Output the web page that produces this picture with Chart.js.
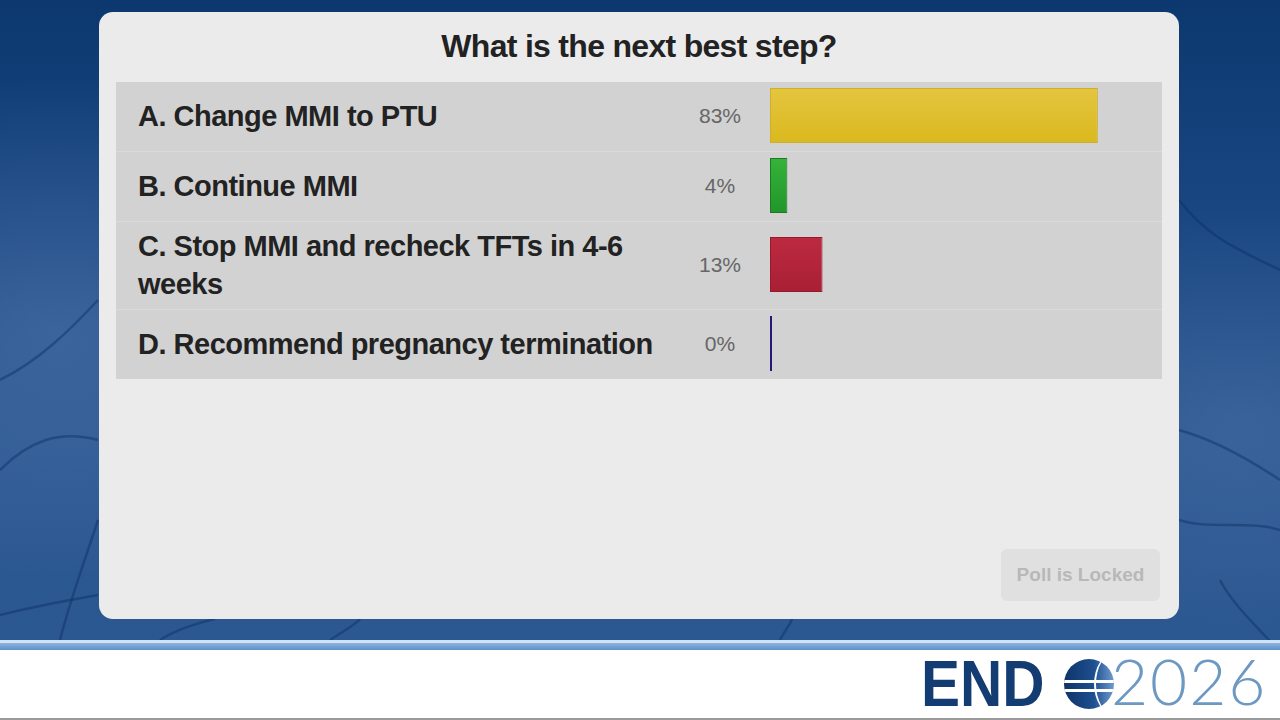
<!DOCTYPE html>
<html>
<head>
<meta charset="utf-8">
<script src="https://cdn.jsdelivr.net/npm/chart.js@4.4.1/dist/chart.umd.min.js"></script>
<style>
  html, body { margin: 0; padding: 0; }
  body {
    width: 1280px; height: 720px; position: relative; overflow: hidden;
    font-family: "Liberation Sans", Arial, sans-serif; background: #fff;
  }
  #bg {
    position: absolute; left: 0; top: 0; width: 1280px; height: 641px;
    background:
      radial-gradient(ellipse 520px 360px at 60px 330px, rgba(120,150,200,0.30), rgba(0,0,0,0) 70%),
      radial-gradient(ellipse 420px 300px at 1240px 420px, rgba(110,140,190,0.25), rgba(0,0,0,0) 70%),
      linear-gradient(180deg, #0c386f 0%, #184580 30%, #2a5690 70%, #2c5891 100%);
  }
  #bg svg { position: absolute; left: 0; top: 0; }
  #strip1 { position: absolute; left: 0; top: 640px; width: 1280px; height: 3px; background: #cfe3f5; }
  #strip2 { position: absolute; left: 0; top: 643px; width: 1280px; height: 7px;
            background: linear-gradient(180deg, #8db3df, #5f8fc8); }
  #footline { position: absolute; left: 0; top: 718px; width: 1280px; height: 2px; background: #9a9a9a; }

  #card {
    position: absolute; left: 99px; top: 12px; width: 1080px; height: 607px;
    background: #ebebeb; border-radius: 14px;
  }
  #title {
    position: absolute; left: 0; top: 15px; width: 100%; text-align: center;
    font-weight: bold; font-size: 32px; letter-spacing: -0.7px; color: #222; line-height: 38px;
  }
  #rows {
    position: absolute; left: 17px; top: 70px; width: 1046px;
    background: #d2d2d2;
  }
  .row {
    position: relative; display: flex; align-items: center;
    padding: 6px 0; border-bottom: 1px solid #dadada; min-height: 57px;
  }
  .row:last-child { border-bottom: none; }
  .label {
    margin-left: 22px; width: 535px; font-weight: bold; font-size: 29px; letter-spacing: -0.5px;
    line-height: 37.5px; color: #222;
  }
  .pct {
    position: absolute; left: 564px; width: 80px; top: 50%; margin-top: -13px;
    text-align: center; font-size: 21px; line-height: 24px; color: #666;
  }
  .bar {
    position: absolute; left: 654px; width: 395px; height: 57px; top: 50%; margin-top: -30px;
  }
  #locked {
    position: absolute; left: 902px; top: 537px; width: 159px; height: 52px;
    background: #e0e0e0; border-radius: 6px; color: #b8b8b8;
    font-weight: bold; font-size: 19px; line-height: 52px; text-align: center;
  }
  #logo { position: absolute; left: 921px; top: 652px; width: 359px; height: 64px; }
  #logo .end {
    position: absolute; left: 0; top: 4px; font-weight: bold;
    font-size: 65px; line-height: 56px; color: #123c72;
    transform: scaleX(0.9); transform-origin: left top;
  }
  #logo .globe {
    position: absolute; left: 143px; top: 7px; width: 50px; height: 50px; border-radius: 50%;
    background: linear-gradient(90deg, #0f3468 0%, #1d4f90 60%, #6f9bd0 100%);
    overflow: hidden;
  }
  #logo .globe i { position: absolute; left: 0; width: 100%; height: 3px; background: #fff; }
  #logo .globe b { position: absolute; left: 30px; top: -6px; width: 40px; height: 62px;
                   border-left: 2px solid #fff; border-radius: 50%; }
  #logo .yr {
    position: absolute; left: 190px; top: -1px; font-family: "Lato", sans-serif; font-weight: 300;
    font-size: 64px; line-height: 60px; letter-spacing: 2px; color: #6c98c2; white-space: nowrap;
  }
</style>
</head>
<body>
<div id="bg">
  <svg width="1280" height="641" viewBox="0 0 1280 641">
    <g fill="none" stroke="#0a2f63" stroke-opacity="0.45" stroke-width="2.5">
      <path d="M0 380 C 40 360, 70 330, 98 300"/>
      <path d="M0 470 C 30 440, 60 430, 98 440"/>
      <path d="M0 615 C 40 605, 70 600, 98 595"/>
      <path d="M60 640 C 70 600, 85 560, 98 520"/>
      <path d="M1179 200 C 1210 240, 1240 250, 1280 270"/>
      <path d="M1179 430 C 1215 440, 1250 460, 1280 480"/>
      <path d="M1179 520 C 1210 530, 1250 520, 1280 530"/>
      <path d="M1220 580 C 1230 600, 1250 620, 1270 641"/>
      <path d="M160 640 C 175 630, 200 622, 215 619"/>
      <path d="M330 640 C 345 630, 355 625, 360 619"/>
      <path d="M780 640 C 785 630, 790 625, 792 619"/>
    </g>
  </svg>
</div>
<div id="strip1"></div>
<div id="strip2"></div>
<div id="footline"></div>

<div id="card">
  <div id="title">What is the next best step?</div>
  <div id="rows"></div>
  <div id="locked">Poll is Locked</div>
</div>

<div id="logo">
  <div class="end">END</div>
  <div class="globe"><i style="top:21px"></i><i style="top:30px"></i><b></b></div>
  <div class="yr">2026</div>
</div>

<script>
// ── Poll data ─────────────────────────────────────────────────────
const answers  = [
  "A. Change MMI to PTU",
  "B. Continue MMI",
  "C. Stop MMI and recheck TFTs in 4-6 weeks",
  "D. Recommend pregnancy termination",
];
// vote shares; label shows the rounded value
const shares   = [83, 4.4, 13.3, 0];
const fillTop  = ["#e4c640", "#35b43a", "#bd2a40", "#3a2a90"];
const fillBot  = ["#dab81e", "#22952a", "#a81f34", "#2a1a80"];
const borders  = ["#cfae2c", "#1b7a22", "#98192c", "#24187a"];

// ── Rows ──────────────────────────────────────────────────────────
const rowsEl = document.getElementById("rows");

answers.forEach((text, i) => {
  const row = document.createElement("div");
  row.className = "row";
  row.innerHTML = `<div class="label">${text}</div>
    <div class="pct">${Math.round(shares[i])}%</div>
    <div class="bar"><canvas id="bar${i}"></canvas></div>`;
  rowsEl.appendChild(row);
});

answers.forEach((text, i) => drawBar(i));

function drawBar(i) {
  new Chart(document.getElementById("bar" + i), {
    type: "bar",
    data: {
      labels: [answers[i]],
      datasets: [{
        data: [shares[i]],
        backgroundColor: ctx => {
          const area = ctx.chart.chartArea;
          if (!area) return fillBot[i];
          const g = ctx.chart.ctx.createLinearGradient(0, area.top, 0, area.bottom);
          g.addColorStop(0, fillTop[i]);
          g.addColorStop(1, fillBot[i]);
          return g;
        },
        borderColor: borders[i],
        borderWidth: 1,
        borderSkipped: false,
        minBarLength: 2,
        barPercentage: 1,
        categoryPercentage: 0.965,
      }]
    },
    options: {
      indexAxis: "y",
      responsive: true, maintainAspectRatio: false,
      animation: false,
      layout: { padding: 0 },
      plugins: { legend: { display: false }, tooltip: { enabled: false } },
      scales: {
        x: { display: false, min: 0, max: 100 },
        y: { display: false }
      }
    }
  });
}
</script>
</body>
</html>
